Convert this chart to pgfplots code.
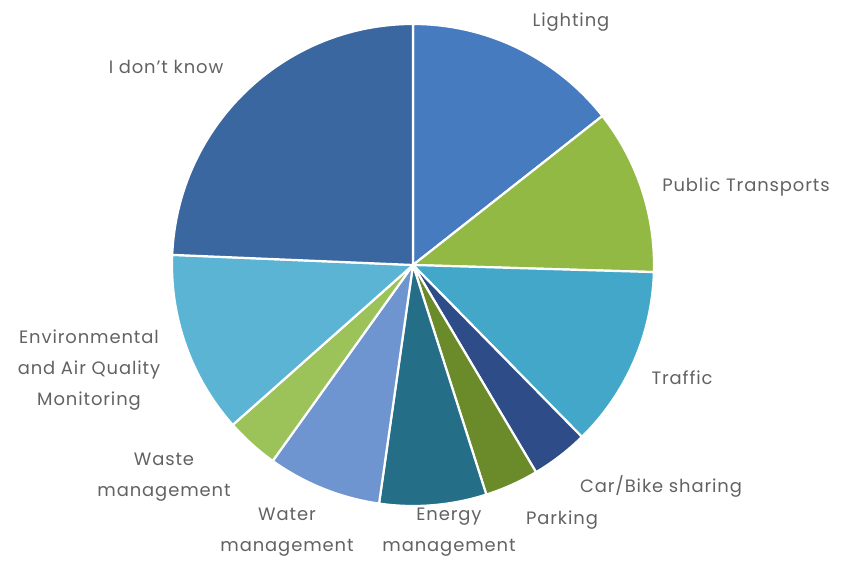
\documentclass[border=0pt]{standalone}
\usepackage{fontspec}
\setmainfont{Poppins}[LetterSpace=5]
\usepackage{pgfplots}
\usepackage{pgfplotstable}
\pgfplotsset{compat=1.18}
\definecolor{c0}{HTML}{467CBF}
\definecolor{c1}{HTML}{93B945}
\definecolor{c2}{HTML}{42A7C9}
\definecolor{c3}{HTML}{2E4C87}
\definecolor{c4}{HTML}{6B8B2B}
\definecolor{c5}{HTML}{246F87}
\definecolor{c6}{HTML}{6E95D0}
\definecolor{c7}{HTML}{9CC35A}
\definecolor{c8}{HTML}{5BB4D4}
\definecolor{c9}{HTML}{3B67A1}
\definecolor{lbl}{HTML}{626262}
\pgfplotstableread[col sep=comma]{
label,value
Lighting,14.39
Public Transports,11.08
Traffic,12.17
Car/Bike sharing,3.83
Parking,3.61
Energy management,7.17
Water management,7.64
Waste management,3.56
Environmental and Air Quality Monitoring,12.22
I don't know,24.33
}\piedata
\begin{document}
\begin{tikzpicture}
\def\cum{90}
\foreach \i in {0,...,9}{%
  \pgfplotstablegetelem{\i}{value}\of\piedata
  \pgfmathsetmacro\nx{\cum-3.6*\pgfplotsretval}%
  \expandafter\xdef\csname pa\i\endcsname{\cum}%
  \expandafter\xdef\csname pb\i\endcsname{\nx}%
  \xdef\cum{\nx}%
}
\begin{axis}[
  x=1bp, y=1bp,
  xmin=0, xmax=846, ymin=0, ymax=562,
  hide axis, clip=false,
]
\path (axis cs:0,0) rectangle (axis cs:846,562);
\pgfplotsinvokeforeach{0,...,9}{
  \fill[c#1, draw=white, line width=2.2bp, line join=round]
    (axis cs:413,297) -- ++(\csname pa#1\endcsname:241bp)
    arc[start angle=\csname pa#1\endcsname, end angle=\csname pb#1\endcsname, radius=241bp] -- cycle;
}
\begin{scope}[every node/.style={text=lbl, font=\fontsize{18}{31}\selectfont, align=center}]
\node at (axis cs:571,540) {Lighting};
\node at (axis cs:746,375) {Public Transports};
\node at (axis cs:682,184) {Traffic};
\node at (axis cs:661,76) {Car/Bike sharing};
\node at (axis cs:562,42) {Parking};
\node at (axis cs:449,30) {Energy\\management};
\node at (axis cs:287,30) {Water\\management};
\node at (axis cs:164,85) {Waste\\management};
\node at (axis cs:89,192) {Environmental\\and Air Quality\\Monitoring};
\node at (axis cs:166,495) {I don't know};
\end{scope}
\end{axis}
\end{tikzpicture}
\end{document}
